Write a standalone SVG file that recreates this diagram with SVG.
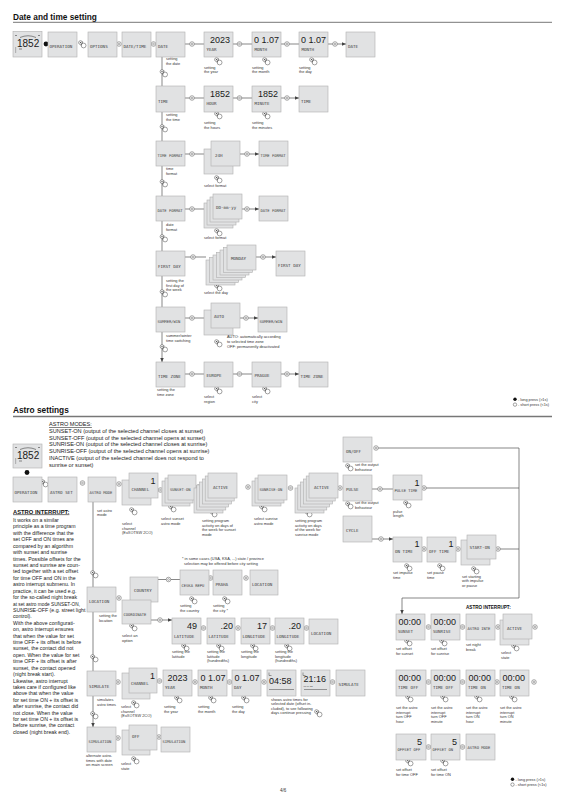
<svg xmlns="http://www.w3.org/2000/svg" width="566" height="800" viewBox="0 0 566 800">
<defs>
<style>
.b{fill:#e1e2e3;stroke:#b0b0b0;stroke-width:.6}
.l{font-family:"DejaVu Sans Mono","Liberation Mono",monospace;font-size:4.2px;fill:#3c3c3c}
.l2{font-family:"DejaVu Sans Mono","Liberation Mono",monospace;font-size:3.8px;fill:#3c3c3c}
.n{font-family:"Liberation Sans",Arial,sans-serif;font-size:9px;fill:#1a1a1a}
.e{text-anchor:end}
.s{font-family:"Liberation Sans",Arial,sans-serif;font-size:3.9px;fill:#333}
.p{font-family:"Liberation Sans",Arial,sans-serif;font-size:5.2px;fill:#222}
.t{font-family:"Liberation Sans",Arial,sans-serif;font-size:8.3px;font-weight:bold;fill:#111}
.c{fill:none;stroke:#555;stroke-width:.7}
.ca{fill:none;stroke:#555;stroke-width:.7;marker-end:url(#ah)}
</style>
<marker id="ah" viewBox="0 0 6 6" refX="6" refY="3" markerWidth="4.2" markerHeight="4.2" markerUnits="userSpaceOnUse" orient="auto"><path d="M0,0.4L6,3L0,5.6z" fill="#444"/></marker>
<g id="o"><circle r="2.3" fill="#fff" stroke="#555" stroke-width=".5"/><circle r=".9" fill="none" stroke="#555" stroke-width=".45"/></g>
<g id="pr"><circle cx="-1.5" cy="-1.4" r="1.9" fill="#fff" stroke="#444" stroke-width=".5"/><circle cx="-1.5" cy="-1.4" r=".7" fill="#444"/><circle cx="1.6" cy="1.5" r="2.4" fill="#fff" stroke="#444" stroke-width=".5"/><path d="M.6,-2.6L-.9,1.9" stroke="#444" stroke-width=".45"/></g>
</defs>
<rect width="566" height="800" fill="#fff"/>

<!-- ===== headings ===== -->
<text class="t" x="13" y="19.5">Date and time setting</text>
<line x1="13" y1="22.3" x2="552" y2="22.3" stroke="#777" stroke-width="1"/>
<text class="t" x="13" y="413">Astro settings</text>
<line x1="13" y1="416.5" x2="552" y2="416.5" stroke="#777" stroke-width="1.6"/>

<!-- ===== connectors ===== -->
<g id="connectors">
<path class="ca" d="M185,44H204M233,44H252M281,44H299M328,44H346"/>
<path class="ca" d="M185,98H204M233,98H252M281,98H299"/>
<path class="ca" d="M185,154H204M240,154H259"/>
<path class="ca" d="M185,209H204M241,209H259"/>
<path class="ca" d="M185,257H206M255,257H276"/>
<path class="ca" d="M185,318H204M240,318H258"/>
<path class="ca" d="M185,374H204M233,374H252M281,374H299"/>
<path class="ca" d="M162,57V86M162,112V141M162,166V196M162,221V251M162,276V307M162,332V362"/>
<path class="ca" d="M93,502V587M93,612V671M93,696V727"/>
<path class="ca" d="M378,448H519V598H402V614"/>
<path class="c" d="M426,488H519M500,549H519"/>
<path class="ca" d="M371,489H393M371,539H393"/>
<path class="ca" d="M157,579.5H180M150,620H172"/>
<use href="#o" x="119" y="44"/><use href="#o" x="153.5" y="44"/><use href="#o" x="192" y="44"/><use href="#o" x="239.5" y="44"/><use href="#o" x="287" y="44"/><use href="#o" x="335" y="44"/>
<use href="#o" x="192" y="98"/><use href="#o" x="239.5" y="98"/><use href="#o" x="287" y="98"/>
<use href="#o" x="192" y="154"/><use href="#o" x="247" y="154"/>
<use href="#o" x="192" y="209"/><use href="#o" x="247" y="209"/>
<use href="#o" x="193" y="257"/><use href="#o" x="263" y="257"/>
<use href="#o" x="192" y="318"/><use href="#o" x="246" y="318"/>
<use href="#o" x="192" y="374"/><use href="#o" x="239.5" y="374"/><use href="#o" x="287" y="374"/>
<use href="#o" x="82.5" y="483"/><use href="#o" x="119" y="484"/><use href="#o" x="160.5" y="490"/><use href="#o" x="198.5" y="487"/><use href="#o" x="248" y="487"/><use href="#o" x="290.5" y="488"/><use href="#o" x="340" y="488"/>
<use href="#o" x="376" y="448"/><use href="#o" x="380" y="489"/><use href="#o" x="424" y="488"/>
<use href="#o" x="381" y="539"/><use href="#o" x="424" y="549"/><use href="#o" x="458" y="549"/><use href="#o" x="498" y="549"/>
<use href="#o" x="428.5" y="627"/><use href="#o" x="462.5" y="627"/><use href="#o" x="498" y="627"/><use href="#o" x="535" y="627"/>
<use href="#o" x="428.5" y="682"/><use href="#o" x="462.5" y="682"/><use href="#o" x="497" y="682"/><use href="#o" x="534" y="682"/>
<use href="#o" x="428.5" y="747"/><use href="#o" x="462.5" y="747"/>
<use href="#o" x="119" y="598"/><use href="#o" x="168.5" y="579.5"/><use href="#o" x="210.5" y="578"/><use href="#o" x="246" y="578"/>
<use href="#o" x="160" y="620"/><use href="#o" x="203.5" y="628"/><use href="#o" x="238" y="628"/><use href="#o" x="272.5" y="628"/><use href="#o" x="306.5" y="628"/>
<use href="#o" x="118" y="682"/><use href="#o" x="159.5" y="681"/><use href="#o" x="195" y="682"/><use href="#o" x="229.5" y="682"/><use href="#o" x="264" y="682"/><use href="#o" x="332.5" y="682"/>
<use href="#o" x="118" y="738"/><use href="#o" x="159" y="737"/>
</g>

<!-- ===== press icons ===== -->
<g id="press">
<circle cx="46" cy="44" r="2.4" fill="#111"/><circle cx="27" cy="472.5" r="2.4" fill="#111"/>
<use href="#pr" x="82" y="44"/><use href="#pr" x="44" y="483"/>
<use href="#pr" x="163.5" y="73"/><use href="#pr" x="163.5" y="128"/><use href="#pr" x="163.5" y="183"/><use href="#pr" x="163.5" y="238"/><use href="#pr" x="163.5" y="293"/><use href="#pr" x="163.5" y="348"/>
<use href="#pr" x="218" y="61"/><use href="#pr" x="266" y="61"/><use href="#pr" x="313" y="61"/>
<use href="#pr" x="218" y="115"/><use href="#pr" x="266" y="115"/>
<use href="#pr" x="218" y="179"/><use href="#pr" x="218" y="232"/><use href="#pr" x="218" y="287"/><use href="#pr" x="218" y="343"/>
<use href="#pr" x="218" y="390"/><use href="#pr" x="266" y="390"/>
<use href="#pr" x="133" y="511"/><use href="#pr" x="172" y="508"/><use href="#pr" x="213" y="513"/><use href="#pr" x="263" y="508"/><use href="#pr" x="308" y="513"/>
<use href="#pr" x="349" y="467"/><use href="#pr" x="349" y="505"/><use href="#pr" x="407" y="504"/>
<use href="#pr" x="408" y="567"/><use href="#pr" x="441" y="567"/><use href="#pr" x="475" y="570"/>
<use href="#pr" x="408" y="642"/><use href="#pr" x="443" y="642"/><use href="#pr" x="515" y="647"/>
<use href="#pr" x="409" y="698"/><use href="#pr" x="444" y="698"/><use href="#pr" x="478" y="698"/><use href="#pr" x="513" y="698"/>
<use href="#pr" x="409" y="762"/><use href="#pr" x="444" y="762"/>
<use href="#pr" x="94" y="574"/><use href="#pr" x="94" y="658"/><use href="#pr" x="94" y="715"/>
<use href="#pr" x="193" y="600"/><use href="#pr" x="226" y="600"/><use href="#pr" x="133" y="627"/>
<use href="#pr" x="185" y="647"/><use href="#pr" x="220" y="647"/><use href="#pr" x="254" y="647"/><use href="#pr" x="288" y="647"/>
<use href="#pr" x="135" y="704"/><use href="#pr" x="178" y="699"/><use href="#pr" x="212" y="699"/><use href="#pr" x="245" y="699"/><use href="#pr" x="318" y="713"/>
<use href="#pr" x="135" y="760"/>
</g>

<!-- ===== date/time nodes ===== -->
<g id="clock1"><rect class="b" x="13" y="31.5" width="29" height="25.5"/><path d="M20,37.5q8,-3.5 16,0M15,35.5h2M38,35.5h2M15,48h1.2M15,50h1.2M15,52h1.2M19,49h3" stroke="#444" stroke-width=".6" fill="none"/><text x="17" y="46.5" font-family="Liberation Sans,Arial,sans-serif" font-size="10" fill="#1a1a1a">1852</text></g>
<g id="n-operation"><rect class="b" x="48" y="32" width="29" height="25"/><text class="l" x="49.5" y="48">OPERATION</text></g>
<g id="n-options"><rect class="b" x="88" y="32" width="29" height="25"/><text class="l" x="90" y="48">OPTIONS</text></g>
<g id="n-datetime"><rect class="b" x="122" y="32" width="29" height="25"/><text class="l" x="123.5" y="48">DATE/TIME</text></g>
<g id="n-date"><rect class="b" x="156" y="32" width="29" height="25"/><text class="l" x="158" y="48">DATE</text></g>
<g id="n-year"><rect class="b" x="204" y="32" width="29" height="25"/><text class="n" x="210" y="43">2023</text><text class="l" x="206.5" y="50.5">YEAR</text></g>
<g id="n-month"><rect class="b" x="252" y="32" width="29" height="25"/><text class="n" x="254" y="43">0 1.07</text><text class="l" x="254.5" y="50.5">MONTH</text></g>
<g id="n-day"><rect class="b" x="299" y="32" width="29" height="25"/><text class="n" x="301" y="43">0 1.07</text><text class="l" x="301.5" y="50.5">MONTH</text></g>
<g id="n-date2"><rect class="b" x="346" y="32" width="29" height="25"/><text class="l" x="348" y="48">DATE</text></g>

<g id="n-time"><rect class="b" x="156" y="86" width="29" height="26"/><text class="l" x="158" y="103">TIME</text></g>
<g id="n-hour"><rect class="b" x="204" y="86" width="29" height="26"/><text class="n" x="210" y="97">1852</text><text class="l" x="206.5" y="104.5">HOUR</text></g>
<g id="n-minute"><rect class="b" x="252" y="86" width="29" height="26"/><text class="n" x="258" y="97">1852</text><text class="l" x="254.5" y="104.5">MINUTE</text></g>
<g id="n-time2"><rect class="b" x="299" y="86" width="29" height="26"/><text class="l" x="301" y="103">TIME</text></g>

<g id="n-timeformat"><rect class="b" x="156" y="141" width="29" height="25"/><text class="l2" x="157.5" y="157">TIME FORMAT</text></g>
<g id="n-tf-stack"><rect class="b" x="204" y="149" width="29" height="25"/><rect class="b" x="211" y="141" width="29" height="25"/><text class="l" x="215" y="157">24H</text></g>
<g id="n-timeformat2"><rect class="b" x="259" y="141" width="29" height="25"/><text class="l2" x="260.5" y="157">TIME FORMAT</text></g>

<g id="n-dateformat"><rect class="b" x="156" y="196" width="29" height="25"/><text class="l2" x="157.5" y="212">DATE FORMAT</text></g>
<g id="n-df-stack"><rect class="b" x="204" y="203" width="29" height="25"/><rect class="b" x="207" y="200" width="29" height="25"/><rect class="b" x="210" y="197" width="29" height="25"/><rect class="b" x="213" y="194" width="29" height="25"/><text class="l" x="216" y="209">DD-mm-yy</text></g>
<g id="n-dateformat2"><rect class="b" x="259" y="196" width="29" height="25"/><text class="l2" x="260.5" y="212">DATE FORMAT</text></g>

<g id="n-firstday"><rect class="b" x="156" y="251" width="29" height="25"/><text class="l" x="158" y="268">FIRST DAY</text></g>
<g id="n-fd-stack"><rect class="b" x="206" y="260" width="29" height="25"/><rect class="b" x="209.5" y="257.5" width="29" height="25"/><rect class="b" x="213" y="255" width="29" height="25"/><rect class="b" x="216.5" y="252.5" width="29" height="25"/><rect class="b" x="220" y="250" width="29" height="25"/><rect class="b" x="223.5" y="247.5" width="29" height="25"/><rect class="b" x="227" y="245" width="29" height="25"/><text class="l" x="231" y="260">MONDAY</text></g>
<g id="n-firstday2"><rect class="b" x="276" y="251" width="29" height="25"/><text class="l" x="278" y="267">FIRST DAY</text></g>

<g id="n-summer"><rect class="b" x="156" y="307" width="29" height="25"/><text class="l2" x="157.5" y="323">SUMMER/WIN</text></g>
<g id="n-sw-stack"><rect class="b" x="204" y="310" width="29" height="25"/><rect class="b" x="211" y="303" width="29" height="25"/><text class="l" x="214" y="318">AUTO</text></g>
<g id="n-summer2"><rect class="b" x="258" y="307" width="29" height="25"/><text class="l2" x="259.5" y="323">SUMMER/WIN</text></g>

<g id="n-timezone"><rect class="b" x="156" y="362" width="29" height="25"/><text class="l" x="158" y="378">TIME ZONE</text></g>
<g id="n-europe"><rect class="b" x="204" y="362" width="29" height="25"/><text class="l" x="206.5" y="377">EUROPE</text></g>
<g id="n-prague"><rect class="b" x="252" y="362" width="29" height="25"/><text class="l" x="254.5" y="377">PRAGUE</text></g>
<g id="n-timezone2"><rect class="b" x="299" y="362" width="29" height="25"/><text class="l" x="300.5" y="378">TIME ZONE</text></g>

<!-- ===== astro nodes ===== -->
<g id="clock2"><rect class="b" x="13" y="444" width="29" height="24"/><path d="M20,449.5q8,-3.5 16,0M15,447.5h2M38,447.5h2M15,459h1.2M15,461h1.2M15,463h1.2M19,461h3" stroke="#444" stroke-width=".6" fill="none"/><text x="17" y="458.5" font-family="Liberation Sans,Arial,sans-serif" font-size="10" fill="#1a1a1a">1852</text></g>
<g id="a-operation"><rect class="b" x="13" y="477" width="29" height="25"/><text class="l" x="14.5" y="494">OPERATION</text></g>
<g id="a-astroset"><rect class="b" x="48" y="477" width="29" height="25"/><text class="l" x="50" y="494">ASTRO SET</text></g>
<g id="a-astromode"><rect class="b" x="88" y="477" width="28" height="25"/><text class="l2" x="89.5" y="494">ASTRO MODE</text></g>
<g id="a-channel"><rect class="b" x="122" y="480" width="29" height="25"/><rect class="b" x="129" y="473" width="29" height="25"/><text class="n e" x="155.5" y="484">1</text><text class="l" x="131.5" y="491">CHANNEL</text></g>
<g id="a-sunseton"><rect class="b" x="162" y="481" width="28" height="25"/><rect class="b" x="165" y="478" width="28" height="25"/><rect class="b" x="168" y="475" width="28" height="25"/><text class="l2" x="170" y="491">SUNSET-ON</text></g>
<g id="a-active1"><rect class="b" x="194" y="488" width="29" height="25"/><rect class="b" x="196.8" y="485" width="29" height="25"/><rect class="b" x="199.6" y="482" width="29" height="25"/><rect class="b" x="202.4" y="479" width="29" height="25"/><rect class="b" x="205.2" y="476" width="29" height="25"/><rect class="b" x="208" y="473" width="29" height="25"/><text class="l" x="213" y="489">ACTIVE</text></g>
<g id="a-sunriseon"><rect class="b" x="252" y="481" width="29" height="25"/><rect class="b" x="255" y="478" width="29" height="25"/><rect class="b" x="258" y="475" width="29" height="25"/><text class="l2" x="259.5" y="491">SUNRISE-ON</text></g>
<g id="a-active2"><rect class="b" x="295" y="488" width="29" height="25"/><rect class="b" x="297.8" y="485" width="29" height="25"/><rect class="b" x="300.6" y="482" width="29" height="25"/><rect class="b" x="303.4" y="479" width="29" height="25"/><rect class="b" x="306.2" y="476" width="29" height="25"/><rect class="b" x="309" y="473" width="29" height="25"/><text class="l" x="314" y="489">ACTIVE</text></g>
<g id="a-onoff"><rect class="b" x="343" y="437" width="29" height="25"/><text class="l" x="346" y="453">ON/OFF</text></g>
<g id="a-pulse"><rect class="b" x="343" y="475" width="29" height="26"/><text class="l" x="346" y="491">PULSE</text></g>
<g id="a-pulsetime"><rect class="b" x="393" y="475" width="29" height="25"/><text class="n e" x="419.5" y="486">1</text><text class="l2" x="394.5" y="492">PULSE TIME</text></g>
<g id="a-cycle"><rect class="b" x="343" y="516" width="29" height="26"/><text class="l" x="346" y="532">CYCLE</text></g>
<g id="a-ontime"><rect class="b" x="393" y="537" width="29" height="25"/><text class="n e" x="419.5" y="547">1</text><text class="l" x="395" y="553">ON TIME</text></g>
<g id="a-offtime"><rect class="b" x="427" y="537" width="29" height="25"/><text class="n e" x="453.5" y="547">1</text><text class="l" x="429" y="553">OFF TIME</text></g>
<g id="a-starton"><rect class="b" x="461" y="540" width="29" height="25"/><rect class="b" x="467" y="535" width="29" height="24"/><text class="l" x="469.5" y="549">START-ON</text></g>

<g id="i-sunset"><rect class="b" x="396" y="614" width="29" height="26"/><text class="n" x="398.5" y="625" font-size="8.5">00:00</text><text class="l" x="398" y="633">SUNSET</text></g>
<g id="i-sunrise"><rect class="b" x="431" y="614" width="29" height="26"/><text class="n" x="433.5" y="625" font-size="8.5">00:00</text><text class="l" x="433" y="633">SUNRISE</text></g>
<g id="i-astrointe"><rect class="b" x="466" y="614" width="29" height="26"/><text class="l2" x="467.5" y="630">ASTRO INTE</text></g>
<g id="i-active"><rect class="b" x="500" y="620" width="29" height="25"/><rect class="b" x="503" y="614" width="29" height="25"/><text class="l" x="507" y="630">ACTIVE</text></g>

<g id="i-timeoff-h"><rect class="b" x="396" y="670" width="30" height="26"/><text class="n" x="398.5" y="681" font-size="8.5">00:00</text><text class="l" x="398" y="689">TIME OFF</text></g>
<g id="i-timeoff-m"><rect class="b" x="431" y="670" width="29" height="26"/><text class="n" x="433.5" y="681" font-size="8.5">00:00</text><text class="l" x="433" y="689">TIME OFF</text></g>
<g id="i-timeon-h"><rect class="b" x="466" y="670" width="29" height="26"/><text class="n" x="468.5" y="681" font-size="8.5">00:00</text><text class="l" x="468" y="689">TIME ON</text></g>
<g id="i-timeon-m"><rect class="b" x="500" y="670" width="29" height="26"/><text class="n" x="502.5" y="681" font-size="8.5">00:00</text><text class="l" x="502" y="689">TIME ON</text></g>
<g id="i-offsetoff"><rect class="b" x="396" y="734" width="30" height="26"/><text class="n e" x="422" y="745">5</text><text class="l2" x="397.5" y="751">OFFSET OFF</text></g>
<g id="i-offseton"><rect class="b" x="431" y="734" width="29" height="26"/><text class="n e" x="457" y="745">5</text><text class="l2" x="432.5" y="751">OFFSET ON</text></g>
<g id="i-astromode"><rect class="b" x="466" y="734" width="29" height="26"/><text class="l2" x="467.5" y="749">ASTRO MODE</text></g>

<g id="l-location"><rect class="b" x="87" y="587" width="29" height="25"/><text class="l" x="89" y="603">LOCATION</text></g>
<g id="l-country"><rect class="b" x="130" y="577" width="28" height="25"/><text class="l" x="134" y="592">COUNTRY</text></g>
<g id="l-coordinate"><rect class="b" x="122" y="600" width="29" height="24"/><text class="l2" x="123.5" y="616">COORDINATE</text></g>
<g id="l-ceska"><rect class="b" x="180" y="570" width="29" height="25"/><text class="l2" x="181.5" y="587">CESKA REPU</text></g>
<g id="l-praha"><rect class="b" x="213" y="570" width="29" height="25"/><text class="l" x="215.5" y="586">PRAHA</text></g>
<g id="l-location2"><rect class="b" x="250" y="570" width="28" height="25"/><text class="l" x="252" y="586">LOCATION</text></g>
<g id="l-lat"><rect class="b" x="172" y="618" width="29" height="26"/><text class="n e" x="197" y="629">49</text><text class="l" x="174" y="638">LATITUDE</text></g>
<g id="l-lat2"><rect class="b" x="207" y="618" width="28" height="26"/><text class="n e" x="233" y="629">.20</text><text class="l" x="208.5" y="638">LATITUDE</text></g>
<g id="l-lon"><rect class="b" x="241" y="618" width="29" height="26"/><text class="n e" x="267" y="629">17</text><text class="l" x="242.5" y="638">LONGITUDE</text></g>
<g id="l-lon2"><rect class="b" x="275" y="618" width="29" height="26"/><text class="n e" x="301" y="629">.20</text><text class="l" x="276.5" y="638">LONGITUDE</text></g>
<g id="l-location3"><rect class="b" x="309" y="619" width="29" height="25"/><text class="l" x="311" y="635">LOCATION</text></g>

<g id="s-simulate"><rect class="b" x="87" y="671" width="29" height="25"/><text class="l" x="89" y="688">SIMULATE</text></g>
<g id="s-channel"><rect class="b" x="122" y="673" width="28" height="26"/><rect class="b" x="129" y="668" width="28" height="25"/><text class="n e" x="155" y="679">1</text><text class="l" x="131" y="685">CHANNEL</text></g>
<g id="s-year"><rect class="b" x="163" y="670" width="29" height="26"/><text class="n" x="167.5" y="681">2023</text><text class="l" x="165" y="688.5">YEAR</text></g>
<g id="s-month"><rect class="b" x="198" y="670" width="29" height="26"/><text class="n" x="200.5" y="681">0 1.07</text><text class="l" x="200" y="688.5">MONTH</text></g>
<g id="s-day"><rect class="b" x="232" y="670" width="29" height="26"/><text class="n" x="234.5" y="681">0 1.07</text><text class="l" x="234" y="688.5">DAY</text></g>
<g id="s-sunrise"><rect class="b" x="267" y="670" width="29" height="26"/><path d="M269,672.5v3h2.5M269,689.5h25" stroke="#444" stroke-width=".5" fill="none"/><text class="n" x="269" y="684" font-size="8.5">04:58</text></g>
<g id="s-sunset"><rect class="b" x="301" y="670" width="29" height="26"/><path d="M303,672.5v3h2.5M304,689.5h23" stroke="#444" stroke-width=".5" fill="none"/><text class="n" x="303.5" y="682" font-size="8.5">21:16</text><text x="303.5" y="686.5" font-family="Liberation Sans,Arial,sans-serif" font-size="2.4" fill="#444">01 jul 23</text></g>
<g id="s-simulate2"><rect class="b" x="336" y="670" width="29" height="26"/><text class="l" x="338.5" y="686">SIMULATE</text></g>
<g id="s-simulation"><rect class="b" x="87" y="727" width="29" height="25"/><text class="l2" x="88.5" y="743">SIMULATION</text></g>
<g id="s-off"><rect class="b" x="122" y="730" width="28" height="25"/><rect class="b" x="129" y="725" width="28" height="25"/><text class="l" x="132" y="738">OFF</text></g>
<g id="s-simulation2"><rect class="b" x="161" y="727" width="29" height="25"/><text class="l2" x="162.5" y="743">SIMULATION</text></g>

<!-- ===== captions ===== -->
<g id="captions" class="s">
<text x="166" y="60"><tspan x="166">setting</tspan><tspan x="166" dy="4.5">the date</tspan></text>
<text x="204" y="68.5"><tspan x="204">setting</tspan><tspan x="204" dy="4.5">the year</tspan></text>
<text x="252" y="68.5"><tspan x="252">setting</tspan><tspan x="252" dy="4.5">the month</tspan></text>
<text x="299" y="68.5"><tspan x="299">setting</tspan><tspan x="299" dy="4.5">the day</tspan></text>
<text x="166" y="116"><tspan x="166">setting</tspan><tspan x="166" dy="4.5">the time</tspan></text>
<text x="204" y="124"><tspan x="204">setting</tspan><tspan x="204" dy="4.5">the hours</tspan></text>
<text x="252" y="124"><tspan x="252">setting</tspan><tspan x="252" dy="4.5">the minutes</tspan></text>
<text x="166" y="170"><tspan x="166">time</tspan><tspan x="166" dy="4.5">format</tspan></text>
<text x="204" y="187">select format</text>
<text x="166" y="226"><tspan x="166">date</tspan><tspan x="166" dy="4.5">format</tspan></text>
<text x="204" y="239">select format</text>
<text x="166" y="282"><tspan x="166">setting the</tspan><tspan x="166" dy="4.5">first day of</tspan><tspan x="166" dy="4.5">the week</tspan></text>
<text x="204" y="294">select the day</text>
<text x="166" y="337"><tspan x="166">summer/winter</tspan><tspan x="166" dy="4.5">time switching</tspan></text>
<text x="227" y="337.5"><tspan x="227">AUTO: automatically according</tspan><tspan x="227" dy="5">to selected time zone</tspan><tspan x="227" dy="5">OFF: permanently deactivated</tspan></text>
<text x="157" y="391"><tspan x="157">setting the</tspan><tspan x="157" dy="4.5">time zone</tspan></text>
<text x="204" y="398"><tspan x="204">select</tspan><tspan x="204" dy="4.5">region</tspan></text>
<text x="252" y="398"><tspan x="252">select</tspan><tspan x="252" dy="4.5">city</tspan></text>

<text x="97" y="511.5"><tspan x="97">set astro</tspan><tspan x="97" dy="4.7">mode</tspan></text>
<text x="122" y="525"><tspan x="122">select</tspan><tspan x="122" dy="4.7">channel</tspan><tspan x="122" dy="4.7">(ExXOTSW 2CO)</tspan></text>
<text x="161" y="520"><tspan x="161">select sunset</tspan><tspan x="161" dy="4.7">astro mode</tspan></text>
<text x="202" y="522"><tspan x="202">setting program</tspan><tspan x="202" dy="4.7">activity on days of</tspan><tspan x="202" dy="4.7">the week for sunset</tspan><tspan x="202" dy="4.7">mode</tspan></text>
<text x="254" y="520"><tspan x="254">select sunrise</tspan><tspan x="254" dy="4.7">astro mode</tspan></text>
<text x="295" y="522"><tspan x="295">setting program</tspan><tspan x="295" dy="4.7">activity on days</tspan><tspan x="295" dy="4.7">of the week for</tspan><tspan x="295" dy="4.7">sunrise mode</tspan></text>
<text x="355" y="466"><tspan x="355">set the output</tspan><tspan x="355" dy="4.5">behaviour</tspan></text>
<text x="355" y="504"><tspan x="355">set the output</tspan><tspan x="355" dy="4.5">behaviour</tspan></text>
<text x="393" y="512.5"><tspan x="393">pulse</tspan><tspan x="393" dy="4.5">length</tspan></text>
<text x="393" y="574"><tspan x="393">set impulse</tspan><tspan x="393" dy="4.5">time</tspan></text>
<text x="427" y="574"><tspan x="427">set pause</tspan><tspan x="427" dy="4.5">time</tspan></text>
<text x="462" y="577.5"><tspan x="462">set starting</tspan><tspan x="462" dy="4.5">with impulse</tspan><tspan x="462" dy="4.5">or pause</tspan></text>
<text x="396" y="650"><tspan x="396">set offset</tspan><tspan x="396" dy="4.5">for sunset</tspan></text>
<text x="431" y="650"><tspan x="431">set offset</tspan><tspan x="431" dy="4.5">for sunrise</tspan></text>
<text x="466" y="646"><tspan x="466">set night</tspan><tspan x="466" dy="4.5">break</tspan></text>
<text x="501" y="654"><tspan x="501">select</tspan><tspan x="501" dy="4.5">state</tspan></text>
<text x="396" y="709"><tspan x="396">set the astro</tspan><tspan x="396" dy="4.7">interrupt</tspan><tspan x="396" dy="4.7">turn OFF</tspan><tspan x="396" dy="4.7">hour</tspan></text>
<text x="431" y="709"><tspan x="431">set the astro</tspan><tspan x="431" dy="4.7">interrupt</tspan><tspan x="431" dy="4.7">turn OFF</tspan><tspan x="431" dy="4.7">minute</tspan></text>
<text x="466" y="709"><tspan x="466">set the astro</tspan><tspan x="466" dy="4.7">interrupt</tspan><tspan x="466" dy="4.7">turn ON</tspan><tspan x="466" dy="4.7">hour</tspan></text>
<text x="500" y="709"><tspan x="500">set the astro</tspan><tspan x="500" dy="4.7">interrupt</tspan><tspan x="500" dy="4.7">turn ON</tspan><tspan x="500" dy="4.7">minute</tspan></text>
<text x="396" y="771"><tspan x="396">set offset</tspan><tspan x="396" dy="4.5">for time OFF</tspan></text>
<text x="431" y="771"><tspan x="431">set offset</tspan><tspan x="431" dy="4.5">for time ON</tspan></text>
<text x="99" y="617"><tspan x="99">setting the</tspan><tspan x="99" dy="4.5">location</tspan></text>
<text x="122" y="637"><tspan x="122">select an</tspan><tspan x="122" dy="4.5">option</tspan></text>
<text x="182" y="560"><tspan x="182">* in some cases (USA, KSA, ...) state / province</tspan><tspan x="184" dy="4.5">selection may be offered before city setting</tspan></text>
<text x="180" y="607"><tspan x="180">setting</tspan><tspan x="180" dy="4.5">the country</tspan></text>
<text x="213" y="607"><tspan x="213">setting</tspan><tspan x="213" dy="4.5">the city *</tspan></text>
<text x="172" y="653"><tspan x="172">setting the</tspan><tspan x="172" dy="4.5">latitude</tspan></text>
<text x="207" y="653"><tspan x="207">setting the</tspan><tspan x="207" dy="4.5">latitude</tspan><tspan x="207" dy="4.5">(hundredths)</tspan></text>
<text x="241" y="653"><tspan x="241">setting the</tspan><tspan x="241" dy="4.5">longitude</tspan></text>
<text x="275" y="653"><tspan x="275">setting the</tspan><tspan x="275" dy="4.5">longitude</tspan><tspan x="275" dy="4.5">(hundredths)</tspan></text>
<text x="97" y="701"><tspan x="97">simulates</tspan><tspan x="97" dy="4.5">astro times</tspan></text>
<text x="121" y="708"><tspan x="121">select</tspan><tspan x="121" dy="4.5">channel</tspan><tspan x="121" dy="4.5">(ExXOTSW 2CO)</tspan></text>
<text x="164" y="708"><tspan x="164">setting</tspan><tspan x="164" dy="4.5">the year</tspan></text>
<text x="198" y="708"><tspan x="198">setting</tspan><tspan x="198" dy="4.5">the month</tspan></text>
<text x="232" y="708"><tspan x="232">setting</tspan><tspan x="232" dy="4.5">the day</tspan></text>
<text x="271" y="701"><tspan x="271">shows astro times for</tspan><tspan x="271" dy="4.3">selected date (offset in-</tspan><tspan x="271" dy="4.3">cluded), to see following</tspan><tspan x="271" dy="4.3">days continue pressing</tspan></text>
<text x="86" y="757"><tspan x="86">alternate astro-</tspan><tspan x="86" dy="4.7">times with date</tspan><tspan x="86" dy="4.7">on main screen</tspan></text>
<text x="121" y="765"><tspan x="121">select</tspan><tspan x="121" dy="4.5">state</tspan></text>
</g>

<!-- ===== astro text blocks ===== -->
<g id="astro-modes" class="p" style="font-size:5.6px">
<text x="49" y="426" text-decoration="underline">ASTRO MODES:</text>
<text x="49" y="432.8">SUNSET-ON (output of the selected channel closes at sunset)</text>
<text x="49" y="439.6">SUNSET-OFF (output of the selected channel opens at sunset)</text>
<text x="49" y="446.4">SUNRISE-ON (output of the selected channel closes at sunrise)</text>
<text x="49" y="453.2">SUNRISE-OFF (output of the selected channel opens at sunrise)</text>
<text x="49" y="460">INACTIVE (output of the selected channel does not respond to</text>
<text x="49" y="466.8">sunrise or sunset)</text>
</g>
<text x="13" y="513.5" font-family="Liberation Sans,Arial,sans-serif" font-size="5.8" font-weight="bold" fill="#111" text-decoration="underline">ASTRO INTERRUPT:</text>
<text x="466" y="608.5" font-family="Liberation Sans,Arial,sans-serif" font-size="4.6" font-weight="bold" fill="#111">ASTRO INTERRUPT:</text>
<g id="astro-interrupt-text" class="p">
<text x="13" y="522">It works on a similar</text>
<text x="13" y="528.4">principle as a time program</text>
<text x="13" y="534.8">with the difference that the</text>
<text x="13" y="541.3">set OFF and ON times are</text>
<text x="13" y="547.7">compared by an algorithm</text>
<text x="13" y="554.1">with sunset and sunrise</text>
<text x="13" y="560.5">times. Possible offsets for the</text>
<text x="13" y="566.9">sunset and sunrise are coun-</text>
<text x="13" y="573.4">ted together with a set offset</text>
<text x="13" y="579.8">for time OFF and ON in the</text>
<text x="13" y="586.2">astro interrupt submenu. In</text>
<text x="13" y="592.6">practice, it can be used e.g.</text>
<text x="13" y="599">for the so-called night break</text>
<text x="13" y="605.5" textLength="67" lengthAdjust="spacingAndGlyphs">at set astro mode SUNSET-ON,</text>
<text x="13" y="611.9">SUNRISE-OFF (e.g. street light</text>
<text x="13" y="618.3">control).</text>
<text x="13" y="624.7">With the above configurati-</text>
<text x="13" y="631.1">on, astro interrupt ensures</text>
<text x="13" y="637.6">that when the value for set</text>
<text x="13" y="644">time OFF + its offset is before</text>
<text x="13" y="650.4">sunset, the contact did not</text>
<text x="13" y="656.8">open. When the value for set</text>
<text x="13" y="663.2">time OFF + its offset is after</text>
<text x="13" y="669.7">sunset, the contact opened</text>
<text x="13" y="676.1">(night break start).</text>
<text x="13" y="682.5">Likewise, astro interrupt</text>
<text x="13" y="688.9">takes care if configured like</text>
<text x="13" y="695.3">above that when the value</text>
<text x="13" y="701.8">for set time ON + its offset is</text>
<text x="13" y="708.2">after sunrise, the contact did</text>
<text x="13" y="714.6">not close. When the value</text>
<text x="13" y="721">for set time ON + its offset is</text>
<text x="13" y="727.4">before sunrise, the contact</text>
<text x="13" y="733.9">closed (night break end).</text>
</g>

<!-- ===== legends ===== -->
<g id="legend1" font-family="Liberation Sans,Arial,sans-serif" font-size="3.8" fill="#333">
<circle cx="515" cy="399.3" r="1.7" fill="#111"/><text x="518" y="400.8">- long press (&gt;1s)</text>
<circle cx="515" cy="404.6" r="1.7" fill="#fff" stroke="#333" stroke-width=".45"/><text x="518" y="406.1">- short press (&lt;1s)</text>
</g>
<g id="legend2" font-family="Liberation Sans,Arial,sans-serif" font-size="3.8" fill="#333">
<circle cx="512.5" cy="779.3" r="1.7" fill="#111"/><text x="515.5" y="780.8">- long press (&gt;1s)</text>
<circle cx="512.5" cy="784.6" r="1.7" fill="#fff" stroke="#333" stroke-width=".45"/><text x="515.5" y="786.1">- short press (&lt;1s)</text>
</g>
<text x="280" y="792" font-family="Liberation Sans,Arial,sans-serif" font-size="4.5" fill="#333">4/6</text>
</svg>
